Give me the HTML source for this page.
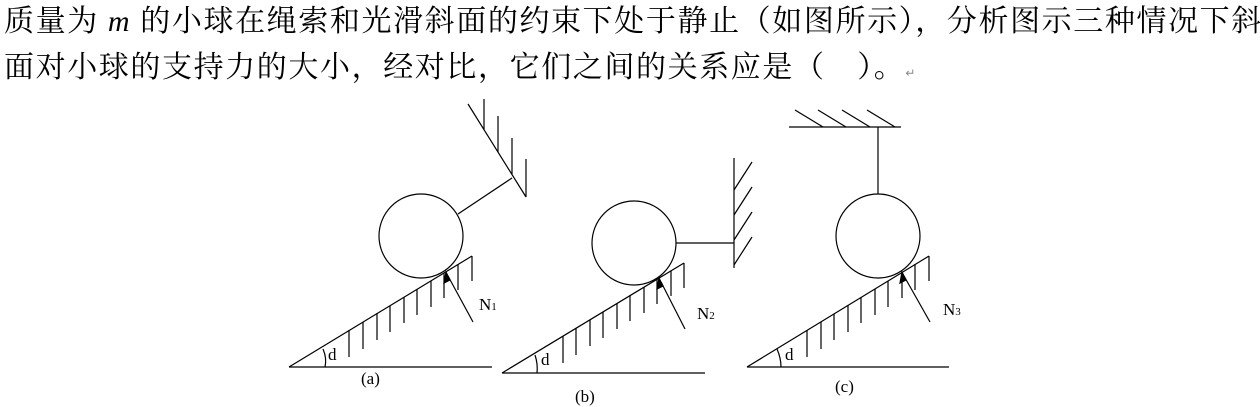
<!DOCTYPE html>
<html><head><meta charset="utf-8"><style>
body{margin:0;background:#fff;}
#w{position:relative;width:1260px;height:407px;overflow:hidden;background:#fff;}
.t{position:absolute;left:4px;font-family:"Liberation Serif","Noto Serif CJK SC","Noto Sans CJK SC",serif;font-size:30px;color:#000;white-space:nowrap;letter-spacing:1.6px;line-height:36px;}
svg{position:absolute;left:0;top:0;}
svg text{font-family:"Liberation Serif",serif;}
</style></head><body><div id="w">
<div class="t" style="top:4px;">质量为<i>&nbsp;m&nbsp;</i>的小球在绳索和光滑斜面的约束下处于静止（如图所示），分析图示三种情况下斜</div>
<div class="t" style="top:50px;">面对小球的支持力的大小，经对比，它们之间的关系应是（　）。<span style="font-size:12px;color:#888">↵</span></div>
<svg width="1260" height="407" stroke="#000" stroke-width="1.2" fill="none">
<!-- (a) -->
<line x1="289" y1="367" x2="492" y2="367"/>
<line x1="289" y1="367" x2="472" y2="256"/>
<g>
<line x1="349" y1="330" x2="349" y2="357"/><line x1="363" y1="322" x2="363" y2="349"/><line x1="377" y1="313" x2="377" y2="340"/><line x1="390" y1="306" x2="390" y2="332"/><line x1="404" y1="297" x2="404" y2="323"/><line x1="417" y1="289" x2="417" y2="315"/><line x1="431" y1="281" x2="431" y2="307"/><line x1="444" y1="273" x2="444" y2="298"/><line x1="458" y1="264" x2="458" y2="290"/><line x1="472" y1="256" x2="472" y2="281"/>
</g>
<circle cx="421" cy="236" r="42"/>
<line x1="458" y1="214" x2="512" y2="178"/>
<line x1="468" y1="104" x2="526" y2="197"/>
<line x1="484" y1="99" x2="484" y2="130"/><line x1="498" y1="116" x2="498" y2="152"/><line x1="512" y1="138" x2="512" y2="174"/><line x1="526" y1="159" x2="526" y2="197"/>
<line x1="473" y1="322" x2="448" y2="276"/>
<polygon points="446,272 444,283 450,280" fill="#000"/>
<path d="M323,349 Q327,358 325,367"/>
<!-- (b) -->
<line x1="502" y1="373" x2="705" y2="373"/>
<line x1="502" y1="373" x2="684" y2="263"/>
<g>
<line x1="563" y1="336" x2="563" y2="363"/><line x1="576" y1="328" x2="576" y2="355"/><line x1="590" y1="320" x2="590" y2="346"/><line x1="603" y1="312" x2="603" y2="338"/><line x1="617" y1="303" x2="617" y2="329"/><line x1="630" y1="295" x2="630" y2="321"/><line x1="644" y1="287" x2="644" y2="313"/><line x1="657" y1="279" x2="657" y2="304"/><line x1="671" y1="271" x2="671" y2="296"/><line x1="684" y1="263" x2="684" y2="288"/>
</g>
<circle cx="634" cy="243" r="42"/>
<line x1="676" y1="243" x2="734" y2="243"/>
<line x1="734" y1="158" x2="734" y2="268"/>
<line x1="734" y1="190" x2="752" y2="162"/><line x1="734" y1="215" x2="752" y2="187"/><line x1="734" y1="240" x2="752" y2="212"/><line x1="734" y1="265" x2="752" y2="237"/>
<line x1="685" y1="329" x2="661" y2="282"/>
<polygon points="659,278 657,289 663,286" fill="#000"/>
<path d="M535,355 Q538,364 537,373"/>
<!-- (c) -->
<line x1="747" y1="367" x2="949" y2="367"/>
<line x1="747" y1="367" x2="929" y2="256"/>
<g>
<line x1="807" y1="330" x2="807" y2="357"/><line x1="821" y1="322" x2="821" y2="349"/><line x1="834" y1="314" x2="834" y2="340"/><line x1="848" y1="305" x2="848" y2="332"/><line x1="861" y1="297" x2="861" y2="323"/><line x1="875" y1="289" x2="875" y2="315"/><line x1="888" y1="281" x2="888" y2="307"/><line x1="902" y1="272" x2="902" y2="298"/><line x1="915" y1="264" x2="915" y2="290"/><line x1="929" y1="256" x2="929" y2="281"/>
</g>
<circle cx="878" cy="236" r="42"/>
<line x1="878" y1="194" x2="878" y2="127"/>
<line x1="789" y1="127" x2="901" y2="127"/>
<line x1="795" y1="110" x2="823" y2="127"/><line x1="818" y1="110" x2="846" y2="127"/><line x1="842" y1="110" x2="870" y2="127"/><line x1="867" y1="110" x2="895" y2="127"/>
<line x1="930" y1="322" x2="904" y2="276"/>
<polygon points="902,272 900,283 906,280" fill="#000"/>
<path d="M777,349 Q781,358 781,367"/>
<g stroke="none" fill="#000" font-size="17">
<text x="328" y="360">d</text><text x="541" y="365">d</text><text x="785" y="360">d</text>
<text x="361" y="384">(a)</text><text x="575" y="402">(b)</text><text x="835" y="392">(c)</text>
<text x="479" y="310">N<tspan font-size="11">1</tspan></text>
<text x="697" y="319">N<tspan font-size="11">2</tspan></text>
<text x="943" y="315">N<tspan font-size="11">3</tspan></text>
</g>
</svg>
</div></body></html>
